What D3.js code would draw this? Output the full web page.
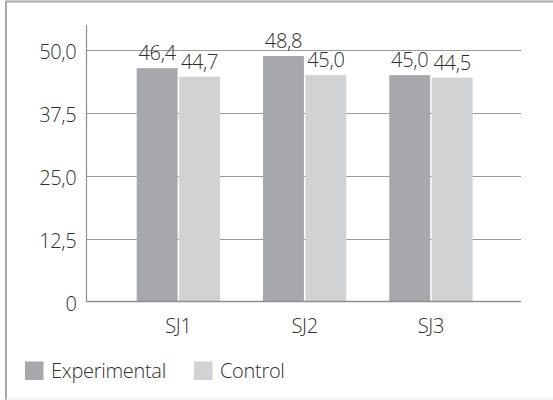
<!DOCTYPE html>
<html>
<head>
<meta charset="utf-8">
<script src="https://cdn.jsdelivr.net/npm/d3@7"></script>
<style>
  html, body { margin: 0; padding: 0; background: #fff; }
  svg { display: block; }
  text { font-family: "Open Sans", sans-serif; font-weight: 300; fill: #2e2e2e; letter-spacing: -0.3px; }
</style>
</head>
<body>
<svg id="chart" width="553" height="400"></svg>
<script>
// Groups, series and their values
const categories = ["SJ1", "SJ2", "SJ3"];
const seriesNames = ["Experimental", "Control"];
const experimental = [46.4, 48.8, 45.0];
const control = [44.7, 45.0, 44.5];
const valueLabels = {
  Experimental: ["46,4", "48,8", "45,0"],
  Control: ["44,7", "45,0", "44,5"]
};
const tickValues = [0, 12.5, 25, 37.5, 50];
const tickLabels = ["0", "12,5", "25,0", "37,5", "50,0"];

const colors = { Experimental: "#a7a8ab", Control: "#d1d2d4" };
const seriesValues = { Experimental: experimental, Control: control };
const fontSize = 20;

const svg = d3.select("#chart");

// Outer frame
svg.append("line").attr("x1", 5).attr("x2", 553).attr("y1", 1.5).attr("y2", 1.5)
  .attr("stroke", "#a9a9a9").attr("stroke-width", 2);
svg.append("line").attr("x1", 6).attr("x2", 6).attr("y1", 1).attr("y2", 400)
  .attr("stroke", "#a9a9a9").attr("stroke-width", 2);
svg.append("line").attr("x1", 6).attr("x2", 553).attr("y1", 399).attr("y2", 399)
  .attr("stroke", "#ececec").attr("stroke-width", 1);

const plotLeft = 86.5, plotRight = 521;
const y = d3.scaleLinear().domain([0, 50]).range([301.5, 50]);

const x0 = d3.scaleBand().domain(categories).range([136.7, 472.6])
  .paddingInner(0.34).paddingOuter(0);
const x1 = d3.scaleBand().domain(seriesNames).range([0, x0.bandwidth()])
  .paddingInner(0.035).paddingOuter(0);

// Gridlines
svg.append("g").selectAll("line").data(tickValues.filter(d => d > 0)).join("line")
  .attr("x1", plotLeft).attr("x2", plotRight)
  .attr("y1", d => Math.round(y(d)) + 0.5).attr("y2", d => Math.round(y(d)) + 0.5)
  .attr("stroke", "#9a9a9a").attr("stroke-width", 1);

// Y tick labels
svg.append("g").selectAll("text").data(tickValues).join("text")
  .attr("x", 76.5).attr("y", d => y(d) + 9)
  .attr("text-anchor", "end").attr("font-size", fontSize)
  .text((d, i) => tickLabels[i]);

// Bars
const groups = svg.append("g").selectAll("g").data(categories).join("g")
  .attr("transform", d => `translate(${x0(d)},0)`);

const cells = (c, ci) => seriesNames.map(s => ({ s, v: seriesValues[s][ci], label: valueLabels[s][ci] }));

groups.selectAll("rect").data(cells).join("rect")
  .attr("x", d => x1(d.s)).attr("width", x1.bandwidth())
  .attr("y", d => y(d.v)).attr("height", d => y(0) - y(d.v))
  .attr("fill", d => colors[d.s]);

// Value labels
groups.selectAll("text.val").data(cells).join("text").attr("class", "val")
  .attr("x", d => x1(d.s) + x1.bandwidth() / 2)
  .attr("y", d => y(d.v) - 8)
  .attr("text-anchor", "middle").attr("font-size", fontSize)
  .text(d => d.label);

// Axis lines
svg.append("line").attr("x1", plotLeft).attr("x2", plotLeft).attr("y1", 25).attr("y2", 302)
  .attr("stroke", "#8e8e8e").attr("stroke-width", 1.2);
svg.append("line").attr("x1", plotLeft).attr("x2", plotRight)
  .attr("y1", y(0)).attr("y2", y(0))
  .attr("stroke", "#8e8e8e").attr("stroke-width", 1.5);

// Category labels
svg.append("g").selectAll("text").data(categories).join("text")
  .attr("x", d => x0(d) + x0.bandwidth() / 2).attr("y", 333)
  .attr("text-anchor", "middle").attr("font-size", fontSize)
  .text(d => d);

// Legend
const legendX = [25, 194];
const legend = svg.append("g").selectAll("g").data(seriesNames).join("g")
  .attr("transform", (d, i) => `translate(${legendX[i]},361.5)`);
legend.append("rect").attr("width", 18.5).attr("height", 18.5)
  .attr("fill", d => colors[d]);
legend.append("text").attr("x", 26).attr("y", 16.8)
  .attr("font-size", fontSize).text(d => d);
</script>
</body>
</html>
